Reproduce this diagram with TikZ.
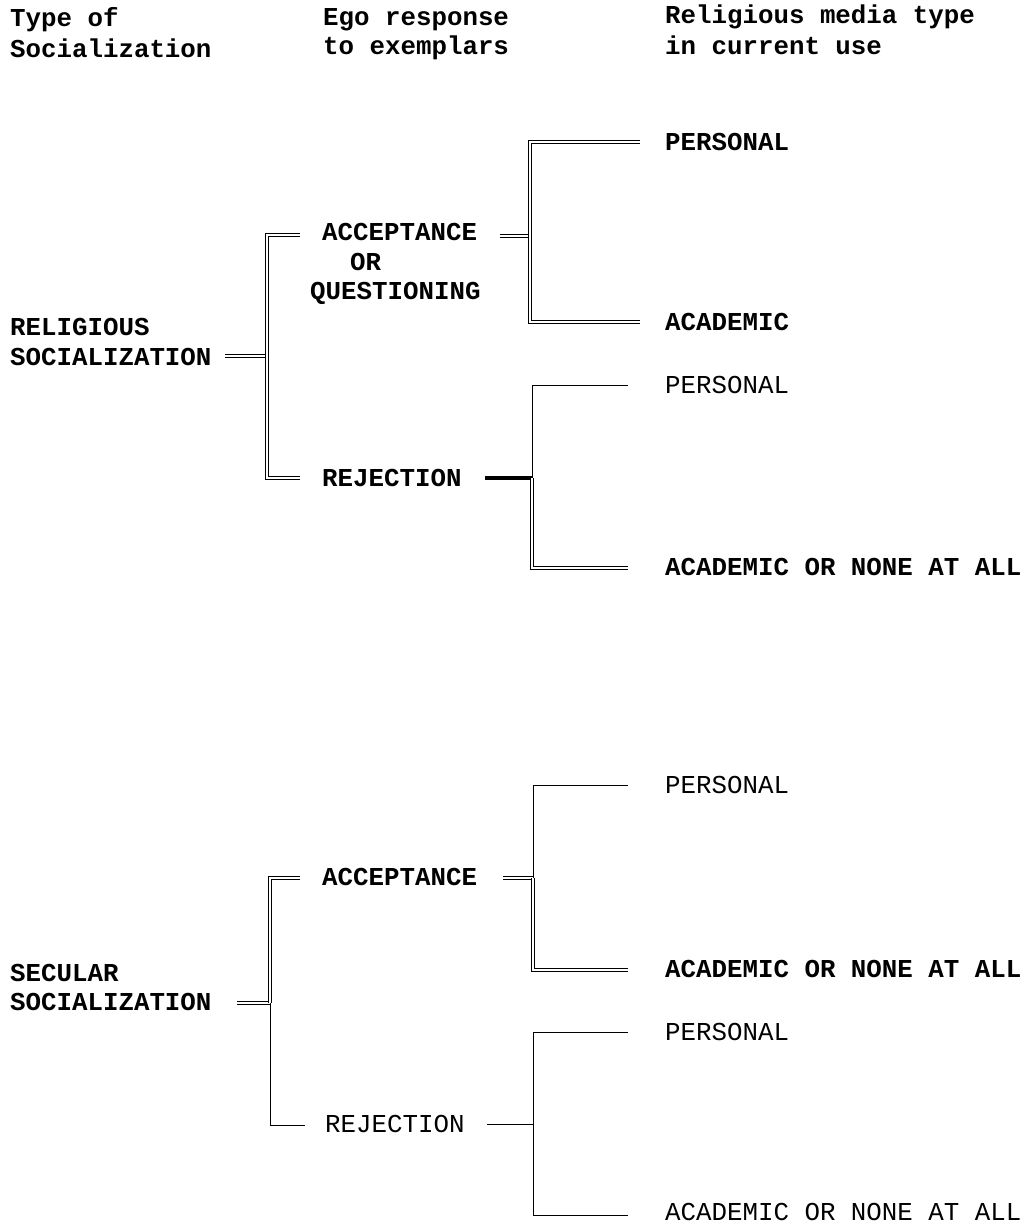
\documentclass[tikz,border=0pt]{standalone}
\usepackage{fontspec}
\setmonofont{Liberation Mono}
\begin{document}
\begin{tikzpicture}[x=1pt,y=-1pt,
  lbl/.style={anchor=west,inner sep=0pt,font=\fontsize{25.8}{30}\selectfont\ttfamily},
  blbl/.style={lbl,font=\fontsize{25.8}{30}\selectfont\ttfamily\bfseries},
  dbl/.style={double,double distance=2.4pt,line width=0.7pt,line join=miter},
  sgl/.style={line width=1pt},
  thk/.style={line width=3.6pt}]
\useasboundingbox (0,0) rectangle (1029,1226);
% headers
\node[blbl] (h1a) at (10,20) {Type of};
\node[blbl] (h1b) at (10,48) {Socialization};
\node[blbl] (h2a) at (323,20) {Ego response};
\node[blbl] (h2b) at (323,48) {to exemplars};
\node[blbl] (h3a) at (665,17) {Religious media type};
\node[blbl] (h3b) at (665,45) {in current use};
% religious part
\node[blbl] (rs1) at (10,327) {RELIGIOUS};
\node[blbl] (rs2) at (10,357) {SOCIALIZATION};
\node[blbl] (racc) at (322,232) {ACCEPTANCE};
\node[blbl] (ror) at (350,262) {OR};
\node[blbl] (rq) at (310,293) {QUESTIONING};
\node[blbl] (rrej) at (322,478) {REJECTION};
\node[blbl] (rp1) at (665,142) {PERSONAL};
\node[blbl] (ra1) at (665,322) {ACADEMIC};
\node[lbl] (rp2) at (665,385) {PERSONAL};
\node[blbl] (ra2) at (665,567) {ACADEMIC OR NONE AT ALL};
% secular part
\node[blbl] (ss1) at (10,973) {SECULAR};
\node[blbl] (ss2) at (10,1002) {SOCIALIZATION};
\node[blbl] (sacc) at (322,877) {ACCEPTANCE};
\node[lbl] (srej) at (325,1124) {REJECTION};
\node[lbl] (sp1) at (665,785) {PERSONAL};
\node[blbl] (sa1) at (665,969) {ACADEMIC OR NONE AT ALL};
\node[lbl] (sp2) at (665,1032) {PERSONAL};
\node[lbl] (sa2) at (665,1212) {ACADEMIC OR NONE AT ALL};
% coordinates religious
\coordinate (rsO) at (225,356);
\coordinate (rJ) at (267,356);
\coordinate (rJt) at (267,235);
\coordinate (rJb) at (267,478);
\coordinate (raccI) at (300,235);
\coordinate (rrejI) at (300,478);
\coordinate (raccO) at (500,236);
\coordinate (rK) at (530,236);
\coordinate (rKt) at (530,142);
\coordinate (rKb) at (530,322);
\coordinate (rp1I) at (640,142);
\coordinate (ra1I) at (640,322);
\coordinate (rrejO) at (485,478);
\coordinate (rL) at (532,478);
\coordinate (rLt) at (532,385);
\coordinate (rLb) at (532,568);
\coordinate (rp2I) at (628,385);
\coordinate (ra2I) at (628,568);
% coordinates secular
\coordinate (ssO) at (237,1003);
\coordinate (sJ) at (270,1003);
\coordinate (sJt) at (270,878);
\coordinate (sJb) at (270,1125);
\coordinate (saccI) at (300,878);
\coordinate (srejI) at (305,1125);
\coordinate (saccO) at (503,878);
\coordinate (sK) at (533,878);
\coordinate (sKt) at (533,785);
\coordinate (sKb) at (533,970);
\coordinate (sp1I) at (628,785);
\coordinate (sa1I) at (628,970);
\coordinate (srejO) at (487,1124);
\coordinate (sL) at (533,1124);
\coordinate (sLt) at (533,1032);
\coordinate (sLb) at (533,1215);
\coordinate (sp2I) at (628,1032);
\coordinate (sa2I) at (628,1215);
% religious connectors
\draw[dbl] (rsO) -- (rJ);
\draw[dbl] (raccI) -- (rJt) -- (rJb) -- (rrejI);
\draw[dbl] (raccO) -- (rK);
\draw[dbl] (rp1I) -- (rKt) -- (rKb) -- (ra1I);
\draw[thk] (rrejO) -- (rL);
\draw[sgl] (rp2I) -- (rLt) -- (rL);
\draw[dbl] (rL) -- (rLb) -- (ra2I);
% secular connectors
\draw[dbl] (ssO) -- (sJ);
\draw[dbl] (saccI) -- (sJt) -- (sJ);
\draw[sgl] (sJ) -- (sJb) -- (srejI);
\draw[dbl] (saccO) -- (sK);
\draw[sgl] (sp1I) -- (sKt) -- (sK);
\draw[dbl] (sK) -- (sKb) -- (sa1I);
\draw[sgl] (srejO) -- (sL);
\draw[sgl] (sp2I) -- (sLt) -- (sLb) -- (sa2I);
\end{tikzpicture}
\end{document}
